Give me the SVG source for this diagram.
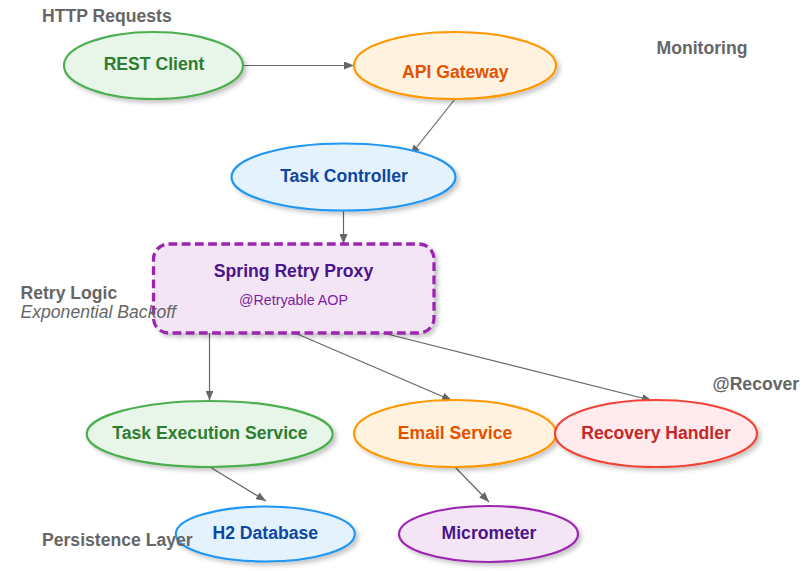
<svg xmlns="http://www.w3.org/2000/svg" width="810" height="571" viewBox="0 0 810 571">
<defs>
<filter id="sh" x="-20%" y="-20%" width="150%" height="160%">
<feDropShadow dx="3" dy="3" stdDeviation="2" flood-color="#000" flood-opacity="0.22"/>
</filter>
<marker id="arr" markerWidth="10" markerHeight="8" refX="10" refY="4" orient="auto" markerUnits="userSpaceOnUse">
<path d="M0,0 L10,4 L0,8 z" fill="#666"/>
</marker>
</defs>
<style>
text{font-family:"Liberation Sans",Arial,Helvetica,sans-serif;}
.n{font-size:17.6px;font-weight:bold;text-anchor:middle;}
.lbl{font-size:17.6px;font-weight:bold;fill:#666;}
.e{stroke-width:2.2;filter:url(#sh);}
.green{fill:#E8F5E9;stroke:#4CAF50;}
.orange{fill:#FFF3E0;stroke:#FF9800;}
.blue{fill:#E3F2FD;stroke:#2196F3;}
.purple{fill:#F3E5F5;stroke:#9C27B0;}
.red{fill:#FFEBEE;stroke:#F44336;}
.c{stroke:#666;stroke-width:1.2;fill:none;marker-end:url(#arr);}
</style>
<rect width="810" height="571" fill="#fff"/>
<g id="connectors">
<line class="c" x1="243" y1="65.5" x2="354" y2="65.5"/>
<line class="c" x1="455" y1="99" x2="410.5" y2="155"/>
<line class="c" x1="343.5" y1="210.5" x2="343.5" y2="244"/>
<line class="c" x1="209.5" y1="333" x2="209.5" y2="400.5"/>
<line class="c" x1="295" y1="333" x2="452" y2="400.5"/>
<line class="c" x1="383" y1="333" x2="652" y2="400.5"/>
<line class="c" x1="210" y1="467" x2="266" y2="501"/>
<line class="c" x1="455" y1="467" x2="489" y2="502"/>
</g>
<g id="rest-client">
<ellipse class="e green" cx="153.5" cy="65.5" rx="89.5" ry="33.5"/>
<text class="n" x="154" y="70" fill="#2E7D32">REST Client</text>
</g>
<g id="api-gateway">
<ellipse class="e orange" cx="455" cy="65.5" rx="101" ry="33.5"/>
<text class="n" x="455.3" y="78" fill="#E65100">API Gateway</text>
</g>
<g id="task-controller">
<ellipse class="e blue" cx="343.5" cy="177" rx="112" ry="33.5"/>
<text class="n" x="344" y="182" fill="#0D47A1">Task Controller</text>
</g>
<g id="spring-retry-proxy">
<rect x="153.5" y="244" width="280.5" height="89" rx="15" ry="15" fill="#F3E5F5" stroke="#9C27B0" stroke-width="3.3" stroke-dasharray="8.8 4.4" filter="url(#sh)"/>
<text class="n" x="293.5" y="277" fill="#4A148C">Spring Retry Proxy</text>
<text x="293.5" y="304.5" font-size="14.3" text-anchor="middle" fill="#7B1FA2">@Retryable AOP</text>
</g>
<g id="task-execution-service">
<ellipse class="e green" cx="209.7" cy="434" rx="123" ry="33"/>
<text class="n" x="210" y="439" fill="#2E7D32">Task Execution Service</text>
</g>
<g id="email-service">
<ellipse class="e orange" cx="455" cy="433.5" rx="101" ry="33.5"/>
<text class="n" x="455" y="439" fill="#E65100">Email Service</text>
</g>
<g id="recovery-handler">
<ellipse class="e red" cx="656" cy="433.5" rx="101" ry="33.5"/>
<text class="n" x="656" y="439" fill="#C62828">Recovery Handler</text>
</g>
<g id="h2-database">
<ellipse class="e blue" cx="265.3" cy="534" rx="89.5" ry="27.5"/>
<text class="n" x="265.3" y="539" fill="#0D47A1">H2 Database</text>
</g>
<g id="micrometer">
<ellipse class="e purple" cx="488.5" cy="534" rx="89.5" ry="28"/>
<text class="n" x="489" y="539" fill="#4A148C">Micrometer</text>
</g>
<g id="labels">
<text class="lbl" x="42" y="21.5">HTTP Requests</text>
<text class="lbl" x="656.5" y="54">Monitoring</text>
<text class="lbl" x="20.5" y="299">Retry Logic</text>
<text x="20.5" y="317.5" font-size="17.6" font-style="italic" fill="#666">Exponential Backoff</text>
<text class="lbl" x="712.5" y="390">@Recover</text>
<text class="lbl" x="42" y="546">Persistence Layer</text>
</g>
</svg>
